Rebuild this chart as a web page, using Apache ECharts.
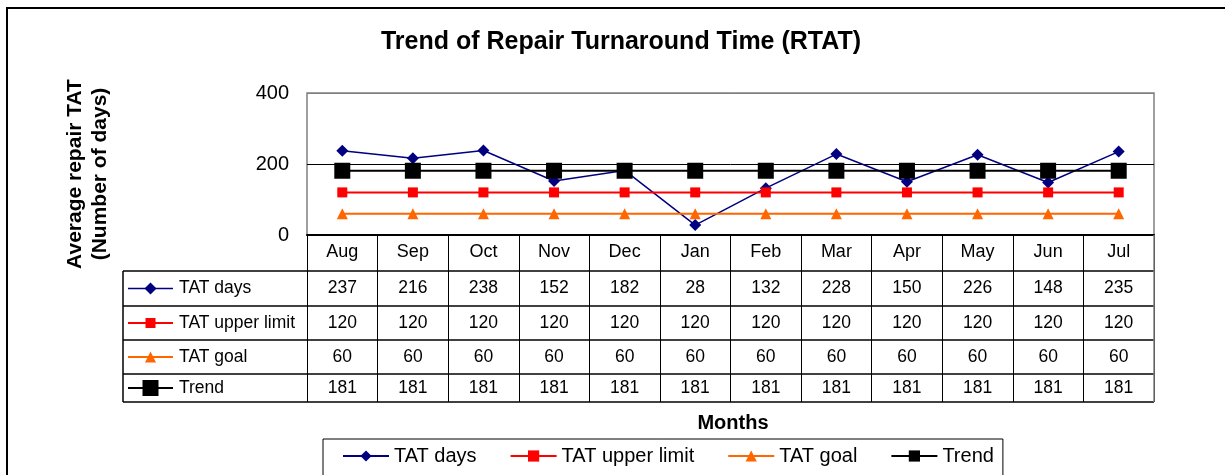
<!DOCTYPE html>
<html>
<head>
    <meta charset="UTF-8"/>
    <script src="https://cdn.jsdelivr.net/npm/echarts@6/dist/echarts.min.js"></script>
    <style>html, body {margin: 0; padding: 0; background: #fff;}</style>
</head>
<body>
<div id="main" style="width:1225px;height:475px"></div>
<script type="text/javascript">
    // data
    var months = ['Aug', 'Sep', 'Oct', 'Nov', 'Dec', 'Jan', 'Feb', 'Mar', 'Apr', 'May', 'Jun', 'Jul'];
    var tatDays = [237, 216, 238, 152, 182, 28, 132, 228, 150, 226, 148, 235];
    var tatUpper = [120, 120, 120, 120, 120, 120, 120, 120, 120, 120, 120, 120];
    var tatGoal = [60, 60, 60, 60, 60, 60, 60, 60, 60, 60, 60, 60];
    var trend = [181, 181, 181, 181, 181, 181, 181, 181, 181, 181, 181, 181];
    var seriesNames = ['TAT days', 'TAT upper limit', 'TAT goal', 'Trend'];
    var yTicks = [0, 200, 400];

    var FONT = '"Liberation Sans", Arial, sans-serif';
    var rows = [
        {name: seriesNames[0], data: tatDays, color: '#000080', symbol: 'diamond', size: 12, width: 1.5},
        {name: seriesNames[1], data: tatUpper, color: '#ff0000', symbol: 'rect', size: 10, width: 2},
        {name: seriesNames[2], data: tatGoal, color: '#ff6600', symbol: 'triangle', size: 11, width: 2},
        {name: seriesNames[3], data: trend, color: '#000000', symbol: 'rect', size: 16, width: 2}
    ];

    var myChart = echarts.init(document.getElementById('main'));

    var option = {
        animation: false,
        backgroundColor: '#fff',
        textStyle: {fontFamily: FONT},
        legend: {
            left: 323,
            top: 439,
            padding: [7, 9, 20, 19],
            itemGap: 33,
            itemWidth: 46,
            itemHeight: 14,
            borderColor: '#000',
            borderWidth: 1,
            textStyle: {fontSize: 20, color: '#000', fontFamily: FONT},
            data: seriesNames
        },
        grid: {
            left: 307,
            top: 93,
            width: 847,
            height: 142,
            show: true,
            borderColor: '#808080',
            borderWidth: 1.5
        },
        xAxis: {
            type: 'category',
            data: months,
            boundaryGap: true,
            axisLine: {lineStyle: {color: '#000', width: 2}},
            axisTick: {show: true, length: 167, lineStyle: {color: '#000', width: 1}},
            axisLabel: {margin: 17, verticalAlign: 'middle', fontSize: 18, color: '#000', fontFamily: FONT}
        },
        yAxis: {
            type: 'value',
            min: yTicks[0],
            max: yTicks[yTicks.length - 1],
            interval: 200,
            axisLine: {show: false},
            axisTick: {show: false},
            axisLabel: {fontSize: 20, color: '#000', margin: 18, fontFamily: FONT},
            splitLine: {lineStyle: {color: ['#808080', '#000', '#808080'], width: 1}}
        },
        series: rows.map(function (r) {
            return {
                name: r.name,
                type: 'line',
                data: r.data,
                symbol: r.symbol,
                symbolSize: r.size,
                itemStyle: {color: r.color},
                lineStyle: {color: r.color, width: r.width}
            };
        })
    };
    myChart.setOption(option);

    // data table under the plot, columns taken from the category axis
    var tableLeft = 123, tableRight = 1154;
    var rowTops = [271, 306, 340, 374, 402];
    var g = [];
    g.push({type: 'text', x: 621, y: 42, z: 10,
        style: {text: 'Trend of Repair Turnaround Time (RTAT)', font: 'bold 25px ' + FONT,
            fill: '#000', align: 'center', verticalAlign: 'middle'}});
    g.push({type: 'text', x: 88, y: 174, rotation: Math.PI / 2, z: 10,
        style: {text: 'Average repair TAT\n(Number of days)', font: 'bold 21px ' + FONT, lineHeight: 25,
            fill: '#000', align: 'center', verticalAlign: 'middle'}});
    g.push({type: 'text', x: 733, y: 423, z: 10,
        style: {text: 'Months', font: 'bold 20px ' + FONT, fill: '#000', align: 'center', verticalAlign: 'middle'}});
    // outer frame
    g.push({type: 'rect', shape: {x: 7, y: 8, width: 1260, height: 500}, z: -1,
        style: {fill: 'none', stroke: '#000', lineWidth: 2}});
    // table lines
    rowTops.forEach(function (y) {
        g.push({type: 'line', shape: {x1: tableLeft, y1: y, x2: tableRight, y2: y}, z: 5,
            style: {stroke: '#000', lineWidth: 1.5}});
    });
    g.push({type: 'line', shape: {x1: tableLeft, y1: rowTops[0], x2: tableLeft, y2: rowTops[4]}, z: 5,
        style: {stroke: '#000', lineWidth: 1.5}});
    g.push({type: 'line', shape: {x1: tableRight, y1: 235, x2: tableRight, y2: rowTops[4]}, z: 6,
        style: {stroke: '#808080', lineWidth: 1.5}});

    rows.forEach(function (r, ri) {
        var cy = (rowTops[ri] + rowTops[ri + 1]) / 2;
        g.push({type: 'line', shape: {x1: 128, y1: cy, x2: 173, y2: cy}, z: 6,
            style: {stroke: r.color, lineWidth: r.width}});
        var s = r.size;
        if (r.symbol === 'diamond') {
            g.push({type: 'polygon', z: 7, shape: {points: [[150.5, cy - s / 2], [150.5 + s / 2, cy], [150.5, cy + s / 2], [150.5 - s / 2, cy]]},
                style: {fill: r.color}});
        } else if (r.symbol === 'triangle') {
            g.push({type: 'polygon', z: 7, shape: {points: [[150.5, cy - s / 2], [150.5 + s / 2, cy + s / 2], [150.5 - s / 2, cy + s / 2]]},
                style: {fill: r.color}});
        } else {
            g.push({type: 'rect', z: 7, shape: {x: 150.5 - s / 2, y: cy - s / 2, width: s, height: s},
                style: {fill: r.color}});
        }
        g.push({type: 'text', x: 179, y: cy, z: 7,
            style: {text: r.name, font: '17.5px ' + FONT, fill: '#000', align: 'left', verticalAlign: 'middle'}});
        r.data.forEach(function (v, i) {
            var cx = myChart.convertToPixel({xAxisIndex: 0}, i);
            g.push({type: 'text', x: cx, y: cy, z: 7,
                style: {text: String(v), font: '17.5px ' + FONT, fill: '#000', align: 'center', verticalAlign: 'middle'}});
        });
    });
    myChart.setOption({graphic: g});
</script>
</body>
</html>
